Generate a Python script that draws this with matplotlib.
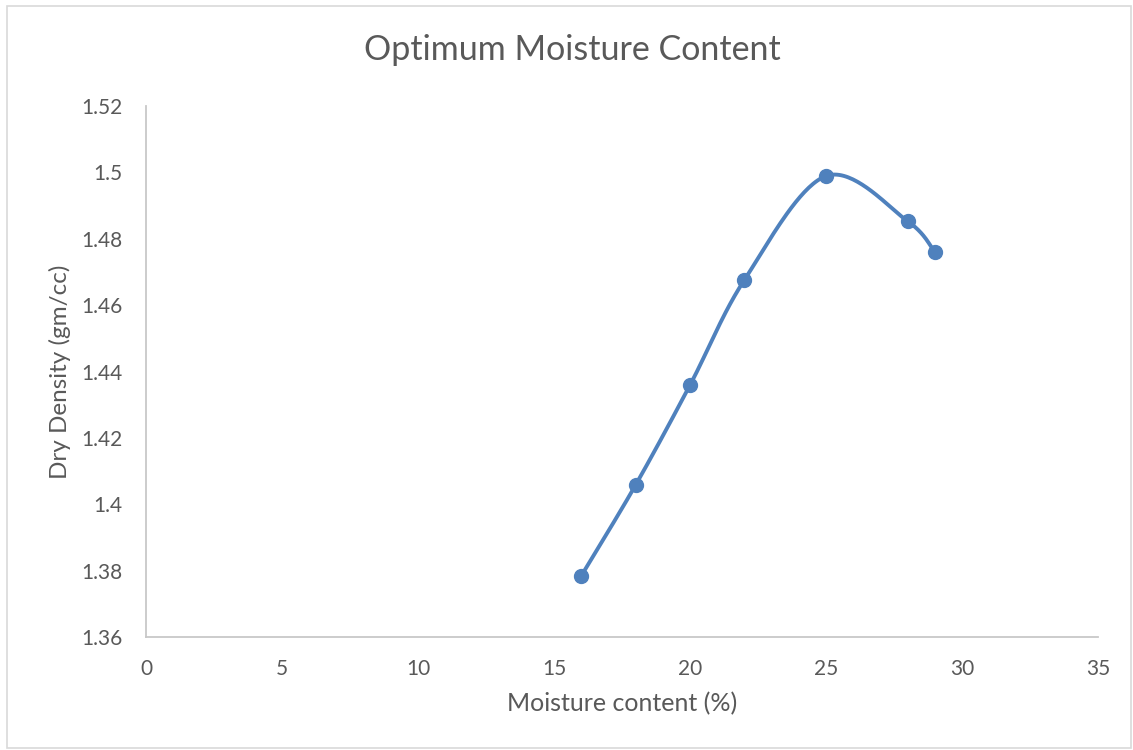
import numpy as np
import matplotlib
matplotlib.use("Agg")
import matplotlib.pyplot as plt
from matplotlib.patches import Rectangle

moisture = [16, 18, 20, 22, 25, 28, 29]
density = [1.3784, 1.4058, 1.4359, 1.4676, 1.4989, 1.4853, 1.4760]
title = "Optimum Moisture Content"
xlabel = "Moisture content (%)"
ylabel = "Dry Density (gm/cc)"
xticks = [0, 5, 10, 15, 20, 25, 30, 35]
yticks = [1.36, 1.38, 1.40, 1.42, 1.44, 1.46, 1.48, 1.50, 1.52]
ytick_labels = ["1.36", "1.38", "1.4", "1.42", "1.44", "1.46", "1.48", "1.5", "1.52"]

plt.rcParams['font.family'] = ['Lato', 'DejaVu Sans']

fig = plt.figure(figsize=(11.33, 7.5), dpi=100)
ax = fig.add_axes([146/1133, 1-637/750, (1098-146)/1133, (637-106)/750])
ax.set_xlim(0, 35)
ax.set_ylim(1.36, 1.52)

# Excel-like smooth curve (Catmull-Rom through data points, in display space)
def smooth(xs, ys, n=40):
    pts = ax.transData.transform(np.column_stack([xs, ys]))
    P = np.vstack([pts[0], pts, pts[-1]])
    out = []
    for i in range(1, len(P) - 2):
        p0, p1, p2, p3 = P[i-1], P[i], P[i+1], P[i+2]
        c1 = p1 + (p2 - p0) / 6
        c2 = p2 - (p3 - p1) / 6
        t = np.linspace(0, 1, n)[:, None]
        seg = (1-t)**3*p1 + 3*(1-t)**2*t*c1 + 3*(1-t)*t**2*c2 + t**3*p2
        out.append(seg if i == 1 else seg[1:])
    out = np.vstack(out)
    return ax.transData.inverted().transform(out)

curve = smooth(moisture, density)
blue = "#4f81bd"
ax.plot(curve[:, 0], curve[:, 1], color=blue, lw=2.8, solid_capstyle='round', zorder=2)
ax.plot(moisture, density, 'o', color=blue, ms=10, zorder=3)

for s in ['top', 'right']:
    ax.spines[s].set_visible(False)
for s in ['left', 'bottom']:
    ax.spines[s].set_color('#c8c8c8')
    ax.spines[s].set_linewidth(1.3)
ax.set_xticks(xticks)
ax.set_yticks(yticks)
ax.set_yticklabels(ytick_labels)
ax.tick_params(length=0, labelsize=15, colors='#595959')
ax.tick_params(axis='x', pad=16)
ax.tick_params(axis='y', pad=17)
ax.set_xlabel(xlabel, fontsize=18, color='#595959', labelpad=9)
ax.set_ylabel(ylabel, fontsize=17.5, color='#595959', labelpad=7)
fig.text(572/1133, 1-50/750, title, ha='center', va='center', fontsize=24.5, color='#595959')

fig.patches.append(Rectangle((7/1133, 2/750), 1124/1133, 742/750, transform=fig.transFigure,
                             fill=False, edgecolor='#d9d9d9', lw=1.2))

fig.savefig("out.png", dpi=100)
